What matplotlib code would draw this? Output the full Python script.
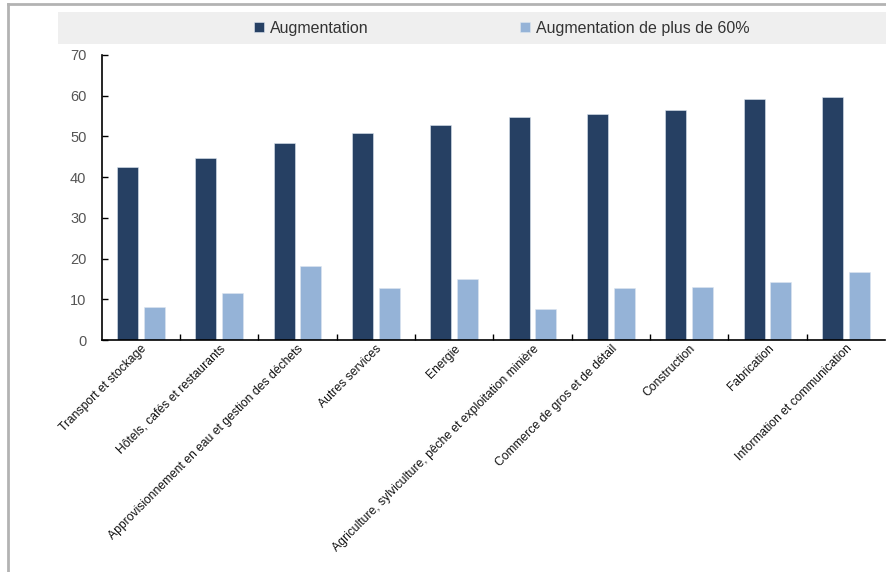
import numpy as np
import matplotlib
matplotlib.use('Agg')
import matplotlib.pyplot as plt
from matplotlib.patches import Rectangle
from matplotlib.lines import Line2D

plt.rcParams['font.family'] = ['Liberation Sans', 'DejaVu Sans']

# Data: share of firms by sector
sectors = ['Transport et stockage', 'Hôtels, cafés et restaurants',
           'Approvisionnement en eau et gestion des déchets', 'Autres services',
           'Energie', 'Agriculture, sylviculture, pêche et exploitation minière',
           'Commerce de gros et de détail', 'Construction', 'Fabrication',
           'Information et communication']
augmentation = [42.6, 44.6, 48.5, 50.9, 52.9, 54.7, 55.6, 56.4, 59.2, 59.6]
augmentation_60 = [8.0, 11.5, 18.2, 12.8, 15.0, 7.5, 12.7, 13.1, 14.3, 16.6]
series_names = ['Augmentation', 'Augmentation de plus de 60%']

dark = '#264063'
light = '#95B3D7'

fig = plt.figure(figsize=(8.87, 5.72), dpi=100)

# outer frame lines (top and left) and legend band
fig.add_artist(Line2D([8/887, 8/887], [0, 1 - 4/572], color='#b3b3b3', lw=2))
fig.add_artist(Line2D([8/887, 1], [1 - 4/572, 1 - 4/572], color='#b3b3b3', lw=2))
fig.add_artist(Rectangle((58/887, 1 - 44/572), 1 - 58/887, 32/572,
                         facecolor='#efefef', edgecolor='none'))

ax = fig.add_axes([101.7/887, 1 - 340/572, (885 - 101.7)/887, (340 - 55)/572])

x = np.arange(len(sectors)) + 0.5
w = 0.27
ax.bar(x - 0.17, augmentation, w, color=dark, edgecolor='#dde6f0', linewidth=0.4,
       label=series_names[0])
ax.bar(x + 0.17, augmentation_60, w, color=light, edgecolor='#dde6f0', linewidth=0.4,
       label=series_names[1])

ax.set_xlim(0, len(sectors))
ax.set_ylim(0, 70)
ax.set_yticks(np.arange(0, 71, 10))
ax.tick_params(axis='y', direction='in', length=4, width=1, labelsize=10.5,
               labelcolor='#555555', pad=11)
ax.set_xticks(x)
ax.set_xticklabels(sectors, rotation=45, ha='right', rotation_mode='anchor',
                   fontsize=8.7, color='#111111')
ax.tick_params(axis='x', length=0, pad=2)
ax.set_xticks(np.arange(1, len(sectors)), minor=True)
ax.tick_params(axis='x', which='minor', direction='in', length=4, width=1)

for s in ['top', 'right']:
    ax.spines[s].set_visible(False)
for s in ['left', 'bottom']:
    ax.spines[s].set_linewidth(1.2)
    ax.spines[s].set_color('black')

handles, labels = ax.get_legend_handles_labels()
fig.legend(handles, labels, loc='center', bbox_to_anchor=(502/887, 1 - 28/572),
           ncol=2, frameon=False, fontsize=11.5, handlelength=0.6, handleheight=0.6,
           handletextpad=0.4, columnspacing=9.5, labelcolor='#333333')

fig.savefig('out.png', dpi=100)
